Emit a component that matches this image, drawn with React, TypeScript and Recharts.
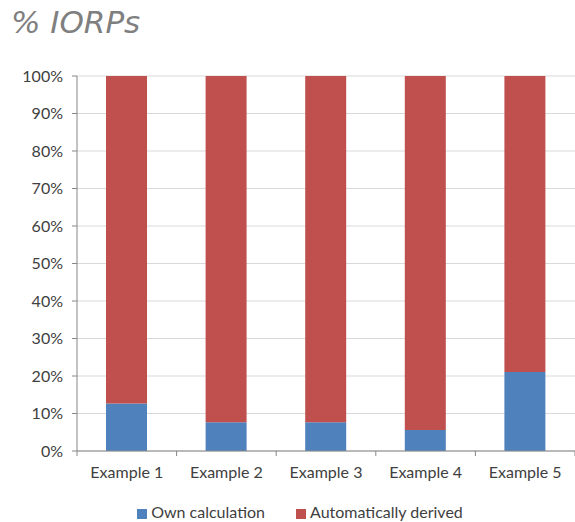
import { BarChart, Bar, XAxis, YAxis, CartesianGrid, Legend } from 'recharts';

const categories = ['Example 1', 'Example 2', 'Example 3', 'Example 4', 'Example 5'];
const ownCalculation = [12.7, 7.7, 7.7, 5.6, 21.1];
const automaticallyDerived = [87.3, 92.3, 92.3, 94.4, 78.9];
const yTicks = [0, 10, 20, 30, 40, 50, 60, 70, 80, 90, 100];
const seriesOrder = ['own', 'auto'];

const data = categories.map((name, i) => ({
  name,
  own: ownCalculation[i],
  auto: automaticallyDerived[i]
}));

const FONT = 'Lato, "Open Sans", sans-serif';

function CategoryTick(props: any) {
  const { x, y, payload, index } = props;
  const half = payload && payload.offset ? payload.offset : 50;
  return (
    <g>
      <line x1={x - half} x2={x - half} y1={y - 8} y2={y - 3} stroke='#868686' />
      {index === categories.length - 1 && (
        <line x1={x + half} x2={x + half} y1={y - 8} y2={y - 3} stroke='#868686' />
      )}
      <text x={x} y={y + 19} textAnchor='middle' fill='#404040' fontSize={16} fontFamily={FONT}>
        {payload.value}
      </text>
    </g>
  );
}

export default function App() {
  return (
    <div style={{ position: 'absolute', left: 0, top: 0, width: 575, height: 522, background: '#fff' }}>
      <div
        style={{
          position: 'absolute',
          left: 11,
          top: 4,
          fontFamily: '"DejaVu Sans", Verdana, sans-serif',
          fontStyle: 'italic',
          fontSize: 31,
          color: '#7f7f7f'
        }}
      >
        % IORPs
      </div>
      <BarChart
        width={575}
        height={522}
        data={data}
        margin={{ top: 76, right: 0, left: 0, bottom: 0 }}
        barSize={41}
      >
        <CartesianGrid vertical={false} stroke='#d9d9d9' />
        <XAxis
          dataKey='name'
          height={51}
          axisLine={{ stroke: '#868686' }}
          tickLine={false}
          tick={<CategoryTick />}
          interval={0}
        />
        <YAxis
          width={77}
          domain={[0, 100]}
          ticks={yTicks}
          tickFormatter={(v: number) => `${v}%`}
          axisLine={{ stroke: '#868686' }}
          tickLine={{ stroke: '#868686' }}
          tickSize={5}
          tick={{ fill: '#404040', fontSize: 16, fontFamily: FONT, dx: -7 }}
        />
        <Legend
          height={20}
          iconType='square'
          iconSize={10}
          itemSorter={(item: any) => seriesOrder.indexOf(item.dataKey)}
          wrapperStyle={{ fontFamily: FONT, fontSize: 16, color: '#404040', paddingLeft: 28 }}
          formatter={(value: string) => <span style={{ color: '#404040', marginRight: 21 }}>{value}</span>}
        />
        <Bar dataKey='own' name='Own calculation' stackId='a' fill='#4f81bd' isAnimationActive={false} />
        <Bar dataKey='auto' name='Automatically derived' stackId='a' fill='#c0504d' isAnimationActive={false} />
      </BarChart>
    </div>
  );
}
